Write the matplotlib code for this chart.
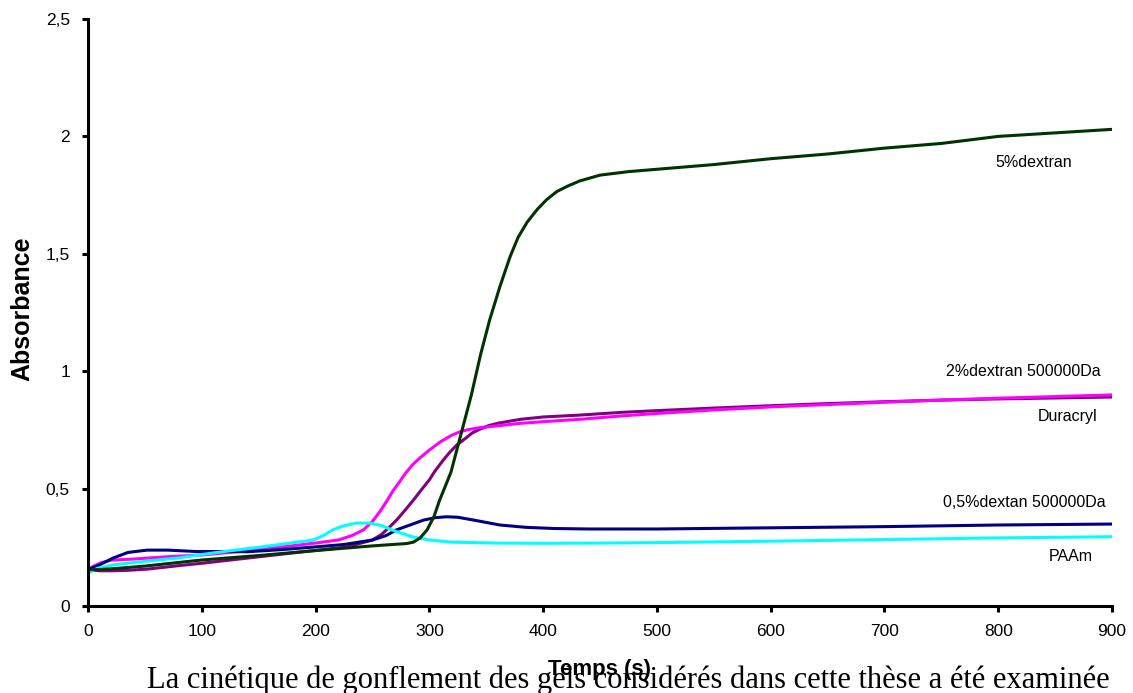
import matplotlib
matplotlib.use("Agg")
import matplotlib.pyplot as plt

# values
t_dex5 = [0, 10, 25, 50, 100, 150, 200, 250, 280, 286, 292, 298, 304, 309, 314, 319, 325, 331, 337,
          345, 353, 362, 371, 378, 386, 395, 403, 412, 421, 432, 450, 475, 500, 550, 600, 650, 700,
          750, 800, 850, 900]
a_dex5 = [0.155, 0.155, 0.16, 0.17, 0.196, 0.215, 0.236, 0.256, 0.266, 0.272, 0.29, 0.324, 0.38, 0.45,
          0.51, 0.57, 0.68, 0.79, 0.9, 1.07, 1.218, 1.36, 1.488, 1.57, 1.635, 1.69, 1.73, 1.765, 1.787,
          1.81, 1.835, 1.85, 1.86, 1.88, 1.905, 1.925, 1.95, 1.97, 2.0, 2.015, 2.03]

t_dex2 = [0, 5, 12, 20, 40, 70, 100, 150, 200, 220, 232, 242, 250, 257, 263, 268, 274, 279, 285, 292,
          300, 310, 320, 327, 335, 345, 353, 365, 380, 400, 432, 470, 500, 550, 600, 650, 700, 750,
          800, 850, 900]
a_dex2 = [0.155, 0.17, 0.185, 0.195, 0.2, 0.21, 0.217, 0.24, 0.268, 0.281, 0.3, 0.324, 0.36, 0.405,
          0.45, 0.49, 0.53, 0.565, 0.6, 0.632, 0.664, 0.7, 0.728, 0.742, 0.752, 0.76, 0.764, 0.77,
          0.778, 0.785, 0.795, 0.81, 0.82, 0.835, 0.848, 0.858, 0.868, 0.877, 0.885, 0.892, 0.899]

t_dura = [0, 10, 20, 35, 52, 80, 100, 140, 180, 227, 250, 258, 265, 272, 279, 286, 293, 300, 305, 312,
          318, 324, 332, 338, 344, 352, 360, 368, 380, 400, 432, 470, 500, 550, 600, 650, 700, 750,
          800, 850, 900]
a_dura = [0.155, 0.15, 0.15, 0.152, 0.157, 0.172, 0.182, 0.204, 0.226, 0.251, 0.281, 0.305, 0.336,
          0.37, 0.41, 0.451, 0.495, 0.537, 0.575, 0.62, 0.655, 0.685, 0.715, 0.738, 0.752, 0.768,
          0.778, 0.785, 0.795, 0.805, 0.813, 0.825, 0.832, 0.843, 0.853, 0.862, 0.87, 0.877, 0.882,
          0.886, 0.89]

t_dex05 = [0, 10, 22, 35, 52, 70, 95, 120, 140, 170, 198, 225, 250, 262, 271, 283, 295, 305, 315, 325,
           340, 362, 385, 410, 440, 500, 600, 700, 800, 900]
a_dex05 = [0.155, 0.175, 0.204, 0.228, 0.238, 0.238, 0.232, 0.232, 0.231, 0.24, 0.251, 0.262, 0.281,
           0.3, 0.324, 0.345, 0.366, 0.376, 0.38, 0.378, 0.365, 0.345, 0.335, 0.33, 0.328, 0.328,
           0.333, 0.338, 0.345, 0.349]

t_paam = [0, 8, 22, 50, 80, 110, 150, 198, 207, 215, 225, 236, 248, 258, 271, 285, 300, 320, 359, 400,
          450, 500, 600, 700, 800, 900]
a_paam = [0.14, 0.16, 0.175, 0.19, 0.205, 0.226, 0.25, 0.281, 0.3, 0.324, 0.342, 0.353, 0.353, 0.342,
          0.317, 0.295, 0.281, 0.272, 0.268, 0.267, 0.268, 0.27, 0.276, 0.283, 0.29, 0.295]

x_ticks = [0, 100, 200, 300, 400, 500, 600, 700, 800, 900]
y_ticks = [0, 0.5, 1, 1.5, 2, 2.5]
y_ticklabels = ['0', '0,5', '1', '1,5', '2', '2,5']

plt.rcParams['font.family'] = ['Liberation Sans', 'DejaVu Sans']

fig = plt.figure(figsize=(11.33, 6.93), dpi=100)
ax = fig.add_axes([88 / 1133, 1 - 606 / 693, 1024 / 1133, 587 / 693])

lw = 2.2
ax.plot(t_dura, a_dura, color='#800080', lw=lw)
ax.plot(t_dex2, a_dex2, color='#ff00ff', lw=lw)
ax.plot(t_dex05, a_dex05, color='#000080', lw=lw)
ax.plot(t_paam, a_paam, color='#00ffff', lw=lw)
ax.plot(t_dex5, a_dex5, color='#003300', lw=lw)

# curve labels
ax.text(831, 1.89, '5%dextran', fontsize=11.5, ha='center', va='center')
ax.text(822, 0.997, '2%dextran 500000Da', fontsize=11.5, ha='center', va='center')
ax.text(861, 0.805, 'Duracryl', fontsize=11.5, ha='center', va='center')
ax.text(823, 0.439, '0,5%dextan 500000Da', fontsize=11.5, ha='center', va='center')
ax.text(864, 0.209, 'PAAm', fontsize=11.5, ha='center', va='center')

ax.set_xlim(0, 900)
ax.set_ylim(0, 2.5)
ax.set_xticks(x_ticks)
ax.set_yticks(y_ticks)
ax.set_yticklabels(y_ticklabels)
ax.tick_params(direction='out', length=4, width=2.2, labelsize=12.5, pad=9)
for s in ['top', 'right']:
    ax.spines[s].set_visible(False)
for s in ['left', 'bottom']:
    ax.spines[s].set_linewidth(2.2)

fig.text(22 / 1133, 1 - 309 / 693, 'Absorbance', rotation=90, fontsize=18, fontweight='bold',
         ha='center', va='center')

# body text of the page sits under the chart
fig.text(147 / 1133, 1 - 688 / 693,
         'La cinétique de gonflement des gels considérés dans cette thèse a été examinée',
         family=['Liberation Serif', 'DejaVu Serif'], fontsize=22, ha='left', va='baseline')
fig.text(600 / 1133, 1 - 670 / 693, 'Temps (s)', fontsize=16, fontweight='bold',
         ha='center', va='center')

fig.savefig('out.png', dpi=100)
